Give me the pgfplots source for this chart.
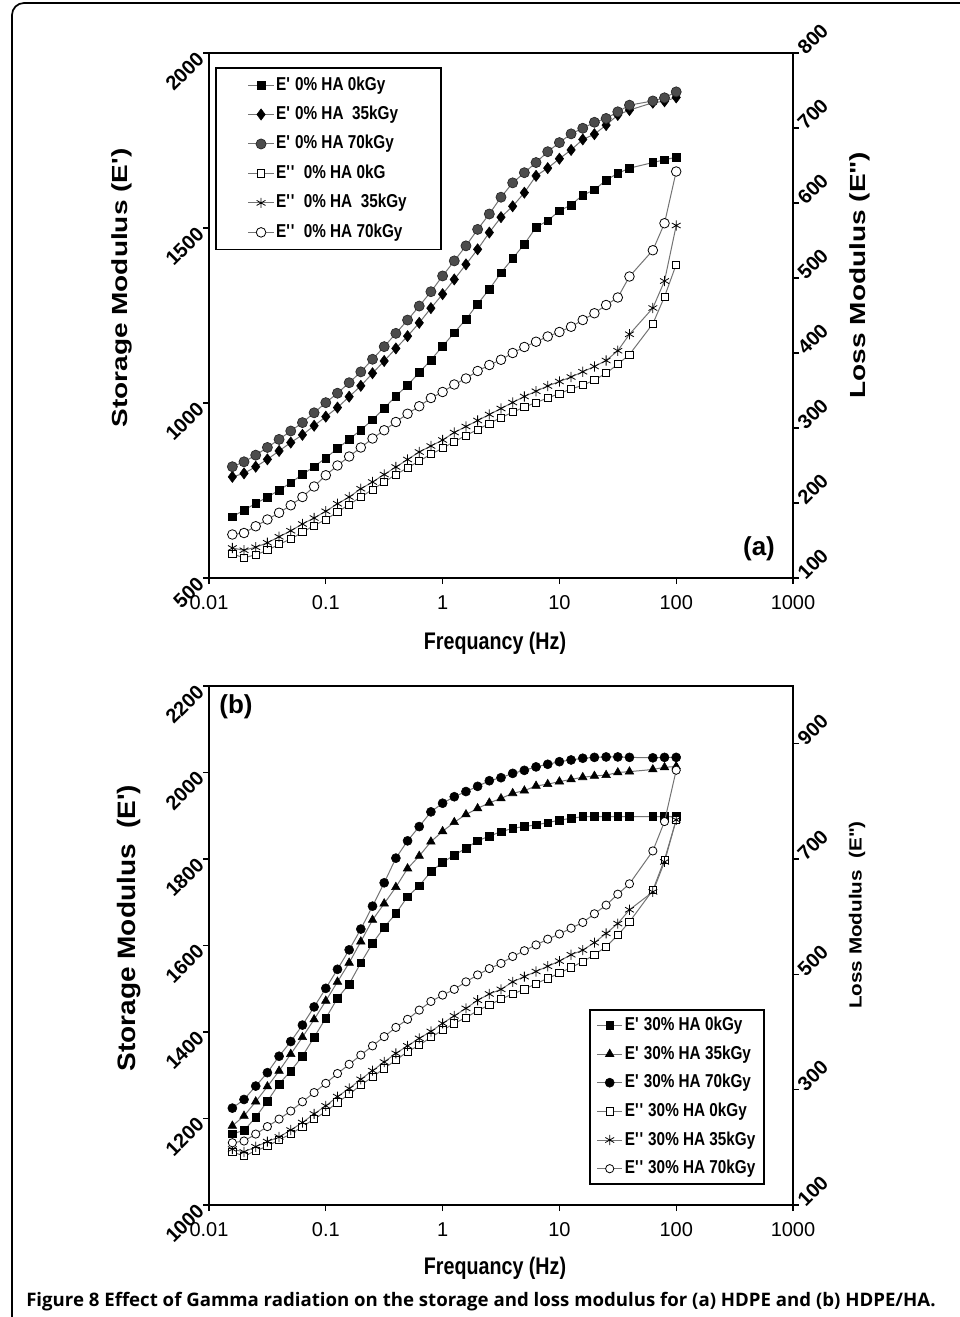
\documentclass[border=0pt]{standalone}
\usepackage{pgfplots}
\pgfplotsset{compat=1.18}
\usepackage{pgfplotstable}
\usepackage{fontspec}
\setmainfont{Liberation Sans}
\newfontfamily\nf{Liberation Sans}[FakeStretch=0.82]
\newfontfamily\capfont{Open Sans}
\newcommand\q{\textquotesingle}
\def\pxu{0.75pt}

% Panel (a): HDPE (0% HA)
\pgfplotstableread{
f Ep0 Ep35 Ep70 Epp0 Epp35 Epp70
0.01585 675 789 818 132 140 158
0.01995 694 799 832 127 137 160
0.02512 713 818 851 131 141 169
0.03162 731 839 873 137 147 178
0.03981 751 863 896 145 155 187
0.05012 772 887 920 152 163 197
0.06310 796 909 944 161 172 208
0.07943 818 935 972 170 180 222
0.1000 843 961 1001 178 189 237
0.1259 870 987 1028 188 199 250
0.1585 896 1018 1058 198 208 262
0.1995 923 1049 1089 208 219 274
0.2512 952 1085 1125 218 228 286
0.3162 985 1120 1161 228 238 297
0.3981 1020 1156 1199 238 248 308
0.5012 1051 1191 1237 247 258 319
0.6310 1087 1229 1277 256 268 329
0.7943 1123 1271 1318 265 276 340
1.000 1162 1311 1363 273 284 348
1.259 1201 1353 1406 282 294 358
1.585 1239 1396 1449 290 302 366
1.995 1283 1439 1496 298 310 376
2.512 1325 1487 1540 306 318 384
3.162 1372 1531 1588 314 326 391
3.981 1413 1562 1629 321 334 400
5.012 1454 1601 1658 328 342 408
6.310 1502 1649 1687 334 349 415
7.943 1521 1671 1718 340 356 422
10.00 1549 1698 1744 346 362 428
12.59 1566 1723 1769 352 368 435
15.85 1594 1753 1785 357 375 444
19.95 1609 1768 1802 364 382 453
25.12 1637 1794 1813 373 390 464
31.62 1656 1823 1832 385 403 474
39.81 1671 1837 1851 398 425 502
63.10 1687 1858 1863 439 460 537
79.43 1695 1862 1872 475 496 573
100.0 1702 1873 1889 518 570 642
}\tabA

% Panel (b): HDPE/HA (30% HA)
\pgfplotstableread{
f Ep0 Ep35 Ep70 Epp0 Epp35 Epp70
0.01585 1165 1183 1224 192 197 208
0.01995 1172 1206 1244 185 192 211
0.02512 1203 1239 1275 194 201 223
0.03162 1240 1274 1306 202 210 236
0.03981 1280 1310 1344 213 218 249
0.05012 1310 1349 1378 223 230 263
0.06310 1344 1388 1416 236 243 279
0.07943 1388 1429 1458 249 258 295
0.1000 1432 1472 1501 262 272 311
0.1259 1478 1516 1545 278 288 328
0.1585 1511 1560 1590 292 302 344
0.1995 1560 1609 1638 308 318 360
0.2512 1605 1659 1691 322 333 376
0.3162 1642 1697 1745 337 348 392
0.3981 1674 1735 1802 351 363 408
0.5012 1713 1778 1842 366 376 422
0.6310 1738 1807 1875 377 389 438
0.7943 1771 1840 1909 391 401 453
1.000 1792 1864 1929 403 415 464
1.259 1809 1885 1944 415 428 474
1.585 1825 1903 1956 425 441 487
1.995 1842 1917 1968 437 455 499
2.512 1853 1930 1981 447 466 510
3.162 1863 1940 1988 457 474 519
3.981 1871 1952 1998 466 487 531
5.012 1875 1958 2005 474 496 541
6.310 1879 1969 2013 484 505 551
7.943 1884 1973 2019 493 514 561
10.00 1890 1979 2025 502 523 570
12.59 1894 1984 2029 512 534 580
15.85 1898 1989 2033 522 542 590
19.95 1898 1992 2035 534 555 605
25.12 1898 1994 2036 548 571 620
31.62 1898 2000 2036 568 588 639
39.81 1898 2002 2035 591 612 657
63.10 1898 2007 2034 646 643 714
79.43 1898 2012 2035 699 695 765
100.0 1898 2014 2035 768 768 854
}\tabB

\pgfplotsset{
  myln/.style={draw=black!55, line width=0.75pt},
  mySq/.style={myln, mark=square*, mark size=2.9pt, mark options={solid, draw=black, fill=black, line width=0.4pt}},
  myDi/.style={myln, mark=diamond*, mark size=4.2pt, mark options={solid, draw=black, fill=black, line width=0.4pt}},
  myCg/.style={myln, mark=*, mark size=3.8pt, mark options={solid, draw=black!85, fill=black!70, line width=0.5pt}},
  myTr/.style={myln, mark=triangle*, mark size=3.7pt, mark options={solid, draw=black, fill=black, line width=0.4pt}},
  myCb/.style={myln, mark=*, mark size=3.4pt, mark options={solid, draw=black, fill=black, line width=0.4pt}},
  myOs/.style={myln, mark=square*, mark size=2.7pt, mark options={solid, draw=black, fill=white, line width=0.6pt}},
  mySt/.style={myln, mark=asterisk, mark size=3.8pt, mark options={solid, draw=black, line width=0.6pt}},
  myOc/.style={myln, mark=*, mark size=3.6pt, mark options={solid, draw=black, fill=white, line width=0.6pt}},
  myOcs/.style={myln, mark=*, mark size=3.1pt, mark options={solid, draw=black, fill=white, line width=0.6pt}},
}

\begin{document}
\begin{tikzpicture}
\path[use as bounding box] (0,0) rectangle ({960*\pxu},{-1317*\pxu});
% frame
\draw[line width=1.3pt, rounded corners=9pt] ({12*\pxu},{-1320*\pxu}) -- ({12*\pxu},{-3*\pxu}) -- ({962*\pxu},{-3*\pxu});

% ---------------- panel (a) ----------------
\begin{axis}[
  at={({209*\pxu},{-578*\pxu})}, anchor=south west,
  scale only axis, width={584*\pxu}, height={525*\pxu},
  xmode=log, xmin=0.01, xmax=1000,
  xminorticks=false, yminorticks=false,
  tick align=outside, major tick length={6*\pxu},
  axis line style={line width=1.4pt},
  every tick/.style={black, line width=1pt},
  xtick={0.01,0.1,1,10,100,1000},
  xticklabels={0.01,0.1,1,10,100,1000},
  xtick pos=left, ytick pos=left,
  xticklabel style={font=\fontsize{15}{18}\selectfont, yshift=-5pt},
  yticklabel style={font=\fontsize{15}{18}\selectfont\bfseries, rotate=45, anchor=east, inner sep=2.5pt},
  ymin=500, ymax=2000, ytick={500,1000,1500,2000}, yticklabels={500,1000,1500,2000}]
\addplot[mySq] table[x=f, y=Ep0]{\tabA};
\addplot[myDi] table[x=f, y=Ep35]{\tabA};
\addplot[myCg] table[x=f, y=Ep70]{\tabA};
\end{axis}
\begin{axis}[
  at={({209*\pxu},{-578*\pxu})}, anchor=south west,
  scale only axis, width={584*\pxu}, height={525*\pxu},
  xmode=log, xmin=0.01, xmax=1000,
  xminorticks=false, yminorticks=false,
  tick align=outside, major tick length={6*\pxu},
  axis line style={line width=1.4pt},
  every tick/.style={black, line width=1pt},
  hide x axis, axis y line*=right, ytick pos=right,
  yticklabel style={font=\fontsize{15}{18}\selectfont\bfseries, rotate=45, anchor=west, inner sep=2pt},
  ymin=100, ymax=800, ytick={100,200,...,800}, yticklabels={100,200,300,400,500,600,700,800},
  legend cell align=left,
  legend image code/.code={\draw[mark repeat=2,mark phase=2] plot coordinates {(0pt,0pt) (9.5pt,0pt) (19pt,0pt)};},
  legend style={draw=black, line width=1.3pt, fill=white,
      font=\fontsize{14}{16}\selectfont\nf\bfseries,
      nodes={text height=10.5pt, text depth=3pt, inner ysep=0pt, inner xsep=1.5pt},
      at={(0.0103,0.973)}, anchor=north west, inner xsep=24pt, inner ysep=6pt, row sep=8.6pt}]
\addlegendimage{mySq}\addlegendentry{E\q{} 0\% HA 0kGy}
\addlegendimage{myDi}\addlegendentry{E\q{} 0\% HA~ 35kGy}
\addlegendimage{myCg}\addlegendentry{E\q{} 0\% HA 70kGy}
\addplot[myOs] table[x=f, y=Epp0]{\tabA};\addlegendentry{E\q\q{}~ 0\% HA 0kG}
\addplot[mySt] table[x=f, y=Epp35]{\tabA};\addlegendentry{E\q\q{}~ 0\% HA~ 35kGy}
\addplot[myOc] table[x=f, y=Epp70]{\tabA};\addlegendentry{E\q\q{}~ 0\% HA 70kGy}
\end{axis}

% ---------------- panel (b) ----------------
\begin{axis}[
  at={({209*\pxu},{-1205*\pxu})}, anchor=south west,
  scale only axis, width={584*\pxu}, height={519*\pxu},
  xmode=log, xmin=0.01, xmax=1000,
  xminorticks=false, yminorticks=false,
  tick align=outside, major tick length={6*\pxu},
  axis line style={line width=1.4pt},
  every tick/.style={black, line width=1pt},
  xtick={0.01,0.1,1,10,100,1000},
  xticklabels={0.01,0.1,1,10,100,1000},
  xtick pos=left, ytick pos=left,
  xticklabel style={font=\fontsize{15}{18}\selectfont, yshift=-5pt},
  yticklabel style={font=\fontsize{15}{18}\selectfont\bfseries, rotate=45, anchor=east, inner sep=2.5pt},
  ymin=1000, ymax=2200, ytick={1000,1200,...,2200}, yticklabels={1000,1200,1400,1600,1800,2000,2200}]
\addplot[mySq] table[x=f, y=Ep0]{\tabB};
\addplot[myTr] table[x=f, y=Ep35]{\tabB};
\addplot[myCb] table[x=f, y=Ep70]{\tabB};
\end{axis}
\begin{axis}[
  at={({209*\pxu},{-1205*\pxu})}, anchor=south west,
  scale only axis, width={584*\pxu}, height={519*\pxu},
  xmode=log, xmin=0.01, xmax=1000,
  xminorticks=false, yminorticks=false,
  tick align=outside, major tick length={6*\pxu},
  axis line style={line width=1.4pt},
  every tick/.style={black, line width=1pt},
  hide x axis, axis y line*=right, ytick pos=right,
  yticklabel style={font=\fontsize{15}{18}\selectfont\bfseries, rotate=45, anchor=west, inner sep=2pt},
  ymin=100, ymax=1000, ytick={100,300,...,900}, yticklabels={100,300,500,700,900},
  legend cell align=left,
  legend image code/.code={\draw[mark repeat=2,mark phase=2] plot coordinates {(0pt,0pt) (9.5pt,0pt) (19pt,0pt)};},
  legend style={draw=black, line width=1.3pt, fill=white,
      font=\fontsize{14}{16}\selectfont\nf\bfseries,
      nodes={text height=10.5pt, text depth=3pt, inner ysep=0pt, inner xsep=1.5pt},
      at={(0.952,0.378)}, anchor=north east, inner xsep=5pt, inner ysep=5pt, row sep=8pt}]
\addlegendimage{mySq}\addlegendentry{E\q{} 30\% HA 0kGy}
\addlegendimage{myTr}\addlegendentry{E\q{} 30\% HA 35kGy}
\addlegendimage{myCb}\addlegendentry{E\q{} 30\% HA 70kGy}
\addplot[myOs] table[x=f, y=Epp0]{\tabB};\addlegendentry{E\q\q{} 30\% HA 0kGy}
\addplot[mySt] table[x=f, y=Epp35]{\tabB};\addlegendentry{E\q\q{} 30\% HA 35kGy}
\addplot[myOcs] table[x=f, y=Epp70]{\tabB};\addlegendentry{E\q\q{} 30\% HA 70kGy}
\end{axis}

% ---------------- texts ----------------
\node[font=\fontsize{18}{20}\selectfont\nf\bfseries] at ({495*\pxu},{-643*\pxu}) {Frequancy (Hz)};
\node[font=\fontsize{18}{20}\selectfont\nf\bfseries] at ({495*\pxu},{-1268*\pxu}) {Frequancy (Hz)};
\node[rotate=90] at ({122*\pxu},{-288*\pxu}) {\scalebox{1}[0.78]{\fontsize{21}{24}\selectfont\bfseries Storage Modulus (E\q)}};
\node[rotate=90] at ({860*\pxu},{-275*\pxu}) {\scalebox{1}[0.78]{\fontsize{21}{24}\selectfont\bfseries Loss Modulus (E\textquotedbl)}};
\node[rotate=90] at ({129*\pxu},{-928*\pxu}) {\scalebox{1}[0.9]{\fontsize{21}{24}\selectfont\bfseries Storage Modulus~ (E\q)}};
\node[rotate=90] at ({857*\pxu},{-915*\pxu}) {\scalebox{1}[0.85]{\fontsize{15.5}{19}\selectfont\bfseries Loss Modulus~ (E\textquotedbl)}};
\node[font=\fontsize{19.5}{22}\selectfont\bfseries] at ({759*\pxu},{-549*\pxu}) {(a)};
\node[font=\fontsize{19.5}{22}\selectfont\bfseries] at ({236*\pxu},{-707*\pxu}) {(b)};
\node[anchor=base west, inner sep=0pt] at ({26*\pxu},{-1306*\pxu}) {\resizebox{682pt}{!}{\capfont\bfseries Figure 8 Effect of Gamma radiation on the storage and loss modulus for (a) HDPE and (b) HDPE/HA.}};
\end{tikzpicture}
\end{document}
